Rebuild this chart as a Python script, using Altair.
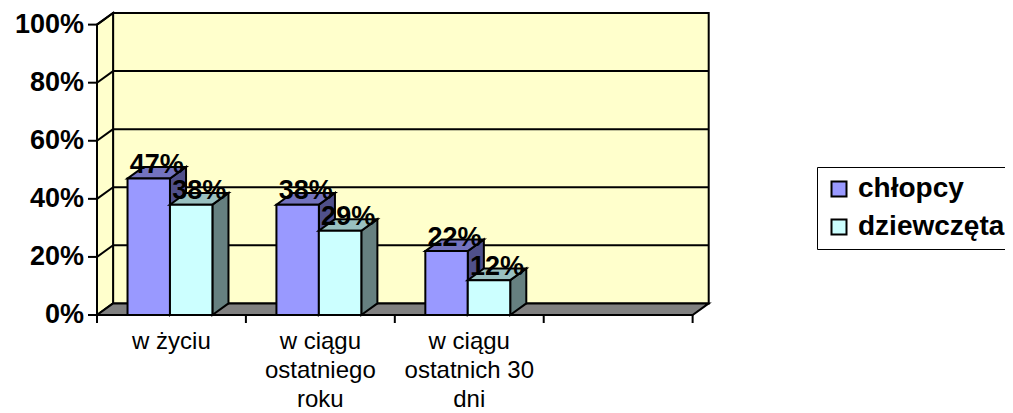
import altair as alt
import pandas as pd

# ---- data ----
categories = ["w życiu", "w ciągu\nostatniego\nroku", "w ciągu\nostatnich 30\ndni", ""]
series = ["chłopcy", "dziewczęta"]
chlopcy = [47, 38, 22]
dziewczeta = [38, 29, 12]
y_ticks = [0, 20, 40, 60, 80, 100]

# ---- styles ----
front_colors = ["#9999FF", "#CCFFFF"]
top_colors = ["#7373BF", "#99C0C0"]
side_colors = ["#50508A", "#668080"]
WALL = "#FFFFCC"
FLOOR = "#808080"
SW = 2
FONT = "Liberation Sans"

N = len(categories)
DX = 0.108   # depth offset in slot units
DY = 0.04    # depth offset in value units
BAR_START = 0.205
BAR_W = 0.285
H = 302

xs = alt.Scale(domain=[0, N + 0.11], nice=False, zero=False)
ys = alt.Scale(domain=[0, 1.04], nice=False, zero=False)

# ---- walls ----
back_df = pd.DataFrame([{"x": DX, "x2": N + DX, "y": DY, "y2": 1 + DY}])
back = alt.Chart(back_df).mark_rect(fill=WALL, stroke="black", strokeWidth=SW).encode(
    x=alt.X("x:Q", scale=xs, axis=None), x2="x2:Q",
    y=alt.Y("y:Q", scale=ys, axis=None), y2="y2:Q")

left_df = pd.DataFrame([{"x": 0, "y": 0, "y2": 1}, {"x": DX, "y": DY, "y2": 1 + DY}])
left = alt.Chart(left_df).mark_area(fill=WALL, stroke="black", strokeWidth=SW, orient="vertical").encode(
    x=alt.X("x:Q", scale=xs, axis=None),
    y=alt.Y("y:Q", scale=ys, axis=None),
    y2="y2:Q")

levels = [t / 100 for t in y_ticks if t > 0]
grid_df = pd.DataFrame({"v": levels})
grid_df["yb"] = grid_df["v"] + DY
grid_df["x0"] = DX
grid_df["x1"] = N + DX
grid_df["xl"] = 0.0
grid_h = alt.Chart(grid_df).mark_rule(color="black", strokeWidth=SW).encode(
    x=alt.X("x0:Q", scale=xs, axis=None), x2="x1:Q",
    y=alt.Y("yb:Q", scale=ys, axis=None))
grid_d = alt.Chart(grid_df).mark_rule(color="black", strokeWidth=SW).encode(
    x=alt.X("xl:Q", scale=xs, axis=None), x2="x0:Q",
    y=alt.Y("v:Q", scale=ys, axis=None), y2="yb:Q")

floor_df = pd.DataFrame([{"y": 0, "x": 0, "x2": N}, {"y": DY, "x": DX, "x2": N + DX}])
floor = alt.Chart(floor_df).mark_area(fill=FLOOR, stroke="black", strokeWidth=SW, orient="horizontal").encode(
    y=alt.Y("y:Q", scale=ys, axis=None),
    x=alt.X("x:Q", scale=xs, axis=None), x2="x2:Q")

# ---- axes (ticks + labels) ----
yt_df = pd.DataFrame({"v": [t / 100 for t in y_ticks], "t": [f"{t}%" for t in y_ticks]})
y_tick_marks = alt.Chart(yt_df).mark_rule(color="black", strokeWidth=SW).encode(
    x=alt.value(-9), x2=alt.value(0), y=alt.Y("v:Q", scale=ys, axis=None))
y_tick_labels = alt.Chart(yt_df).mark_text(
    font=FONT, fontWeight="bold", fontSize=27, color="black", align="right", baseline="middle").encode(
    x=alt.value(-13), y=alt.Y("v:Q", scale=ys, axis=None), text="t:N")

xt_df = pd.DataFrame({"x": list(range(N + 1))})
x_tick_marks = alt.Chart(xt_df).mark_rule(color="black", strokeWidth=SW).encode(
    x=alt.X("x:Q", scale=xs, axis=None), y=alt.value(H), y2=alt.value(H + 8))

# ---- bars ----
layers = [back, left, grid_h, grid_d, floor, y_tick_marks, y_tick_labels, x_tick_marks]
label_rows = []
for k, (s, vals) in enumerate(zip(series, [chlopcy, dziewczeta])):
    front_rows, top_rows, side_rows = [], [], []
    for i, val in enumerate(vals):
        v = val / 100
        x0 = i + BAR_START + k * BAR_W
        x1 = x0 + BAR_W
        bid = f"{k}-{i}"
        front_rows.append({"series": s, "x0": x0, "x1": x1, "y0": 0, "v": v})
        top_rows += [{"id": bid, "y": v, "x": x0, "x2": x1},
                     {"id": bid, "y": v + DY, "x": x0 + DX, "x2": x1 + DX}]
        side_rows += [{"id": bid, "x": x1, "y": 0, "y2": v},
                      {"id": bid, "x": x1 + DX, "y": DY, "y2": v + DY}]
        label_rows.append({"x": (x0 + x1) / 2 + DX / 2, "y": v + DY, "t": f"{val}%"})
    side = alt.Chart(pd.DataFrame(side_rows)).mark_area(
        fill=side_colors[k], stroke="black", strokeWidth=SW, orient="vertical").encode(
        x=alt.X("x:Q", scale=xs, axis=None), y=alt.Y("y:Q", scale=ys, axis=None), y2="y2:Q",
        detail="id:N")
    top = alt.Chart(pd.DataFrame(top_rows)).mark_area(
        fill=top_colors[k], stroke="black", strokeWidth=SW, orient="horizontal").encode(
        y=alt.Y("y:Q", scale=ys, axis=None), x=alt.X("x:Q", scale=xs, axis=None), x2="x2:Q",
        detail="id:N")
    front = alt.Chart(pd.DataFrame(front_rows)).mark_rect(stroke="black", strokeWidth=SW).encode(
        x=alt.X("x0:Q", scale=xs, axis=None), x2="x1:Q",
        y=alt.Y("y0:Q", scale=ys, axis=None), y2="v:Q",
        fill=alt.Fill("series:N", scale=alt.Scale(domain=series, range=front_colors),
                      legend=alt.Legend(title=None, orient="none", legendX=720, legendY=154,
                                        symbolType="square", symbolSize=225,
                                        symbolStrokeColor="black", symbolStrokeWidth=SW,
                                        symbolOpacity=1,
                                        labelFont=FONT, labelFontWeight="bold", labelFontSize=28,
                                        labelColor="black", labelOffset=5, rowPadding=10,
                                        padding=8, strokeColor="black", fillColor="white")))
    layers += [side, top, front]

labels = alt.Chart(pd.DataFrame(label_rows)).mark_text(
    font=FONT, fontWeight="bold", fontSize=27, color="black", align="center",
    baseline="middle", dy=-2).encode(
    x=alt.X("x:Q", scale=xs, axis=None), y=alt.Y("y:Q", scale=ys, axis=None), text="t:N")

cat_df = pd.DataFrame({"c": categories, "x": [i + 0.5 for i in range(N)], "y": [0] * N})
cat_labels = alt.Chart(cat_df).mark_text(
    font=FONT, fontSize=24, color="black", align="center", baseline="alphabetic",
    lineBreak="\n", lineHeight=29, dy=34).encode(
    x=alt.X("x:Q", scale=xs, axis=None), y=alt.Y("y:Q", scale=ys, axis=None), text="c:N")

layers += [labels, cat_labels]

chart = alt.layer(*layers).properties(
    width=612, height=H,
    autosize=alt.AutoSizeParams(type="none"),
    padding={"left": 89, "top": 5, "right": 296, "bottom": 98},
    background="white",
).configure_view(stroke=None)

chart.save("out.html", embed_options={"renderer": "svg", "actions": False})
